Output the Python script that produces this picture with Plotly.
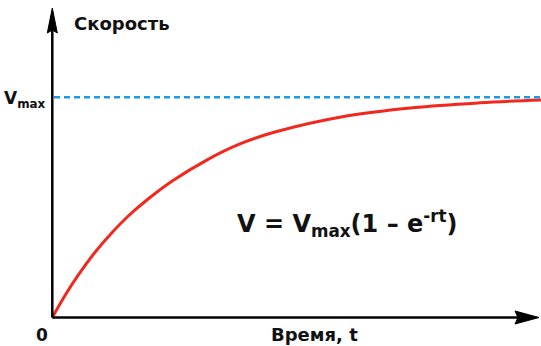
import plotly.graph_objects as go

# Growth curve V(t), read as points (time in arbitrary units, speed as fraction of Vmax)
time = [0, 0.26, 0.53, 0.87, 1.22, 1.56, 1.96, 2.47, 3.16, 3.84, 4.52, 6.02, 7.38, 8.75, 10.0]
speed = [0, 0.100, 0.192, 0.295, 0.385, 0.462, 0.538, 0.622, 0.715, 0.788, 0.840, 0.915, 0.953, 0.975, 0.988]
v_max = 1.0

W, H = 541, 346
X0, Y0 = 52.3, 317.5          # origin in pixels
PX_PER_T = (541 - X0) / 10.0
PX_PER_V = (Y0 - 97.3) / v_max

x_range = [-X0 / PX_PER_T, (W - X0) / PX_PER_T]
y_range = [-(H - Y0) / PX_PER_V, Y0 / PX_PER_V]


def tx(px):
    return (px - X0) / PX_PER_T


def vy(py):
    return (Y0 - py) / PX_PER_V


FONT = "DejaVu Sans, Arial, sans-serif"
TXT = "#111111"

fig = go.Figure()

fig.add_trace(go.Scatter(
    x=time, y=speed, mode="lines",
    line=dict(color="#f0281e", width=3, shape="spline", smoothing=1.0),
    hoverinfo="skip", showlegend=False,
))

shapes = [
    # asymptote Vmax
    dict(type="line", x0=tx(54), x1=tx(541), y0=v_max, y1=v_max,
         line=dict(color="#1e9ae0", width=2.5, dash="6px,4px")),
    # axes
    dict(type="line", x0=0, x1=tx(518), y0=0, y1=0,
         line=dict(color="black", width=2.5)),
    dict(type="line", x0=0, x1=0, y0=0, y1=vy(30),
         line=dict(color="black", width=2.5)),
    # arrowheads
    dict(type="path", fillcolor="black", line=dict(color="black", width=1),
         path=(f"M {tx(539)},{vy(Y0)} L {tx(515)},{vy(Y0 - 6.5)} "
               f"L {tx(518)},{vy(Y0)} L {tx(515)},{vy(Y0 + 6.5)} Z")),
    dict(type="path", fillcolor="black", line=dict(color="black", width=1),
         path=(f"M {tx(X0)},{vy(8)} L {tx(X0 - 5)},{vy(33)} "
               f"L {tx(X0)},{vy(30)} L {tx(X0 + 5)},{vy(33)} Z")),
]


def note(text, px, py, size, xanchor="left", yanchor="middle"):
    return dict(text=text, x=px / W, y=1 - py / H, xref="paper", yref="paper",
                xanchor=xanchor, yanchor=yanchor, showarrow=False, borderpad=0,
                font=dict(family=FONT, size=size, color=TXT))


annotations = [
    note("<b>Скорость</b>", 73, 24, 18),
    note("<b>V<sub>max</sub></b>", 3, 99, 17),
    note("<b>0</b>", 41.5, H, 17, "center", "bottom"),
    note("<b>Время, t</b>", 314, H, 18, "center", "bottom"),
    note("<b>V = V<sub>max</sub>(1 – e<sup>-rt</sup>)</b>", 347, 223, 24, "center"),
]

fig.update_layout(
    width=W, height=H,
    margin=dict(l=0, r=0, t=0, b=0),
    paper_bgcolor="white", plot_bgcolor="white",
    xaxis=dict(range=x_range, visible=False, fixedrange=True),
    yaxis=dict(range=y_range, visible=False, fixedrange=True),
    shapes=shapes, annotations=annotations,
    showlegend=False,
)

fig.write_html("out.html")
